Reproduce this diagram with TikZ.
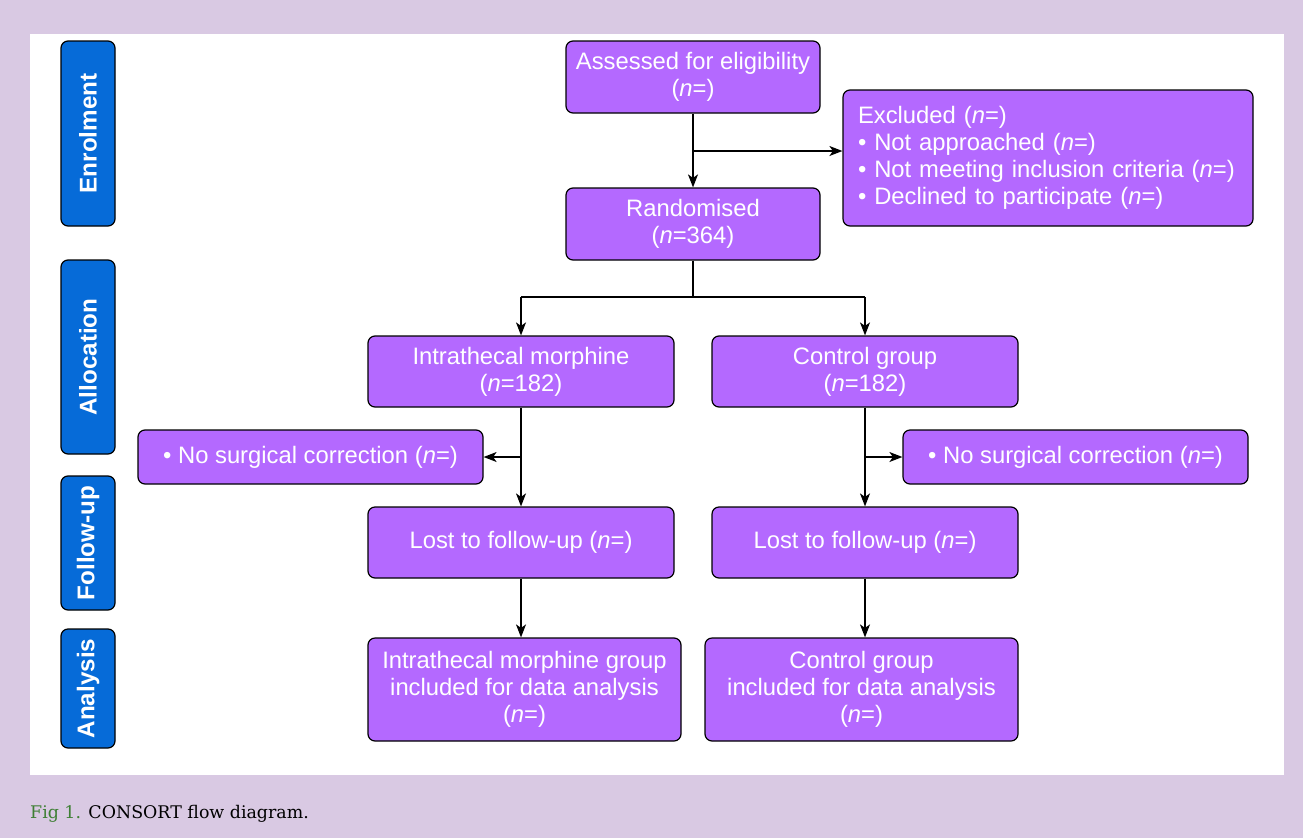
\documentclass[tikz,border=0pt]{standalone}
\usepackage{fontspec}
\setmainfont{Liberation Sans}
\newfontfamily\capfont{DejaVu Serif}
\usetikzlibrary{arrows.meta,calc}
\definecolor{bgpurple}{HTML}{D9C9E3}
\definecolor{boxpurple}{HTML}{B469FF}
\definecolor{sideblue}{HTML}{066BD8}
\definecolor{figgreen}{HTML}{3E7F34}
\begin{document}
\begin{tikzpicture}[x=1pt,y=-1pt,
  box/.style={draw=black,line width=1.2pt,fill=boxpurple,rounded corners=7pt,
    text=white,align=center,inner sep=2pt,font=\fontsize{23.8}{26.8}\selectfont},
  sidebox/.style={draw=black,line width=1.2pt,fill=sideblue,rounded corners=7pt,
    text=white,rotate=90,inner sep=0pt,font=\bfseries\fontsize{24.2}{26}\selectfont},
  conn/.style={line width=1.3pt,black},
  arr/.style={conn,-{Stealth[length=13pt,width=10pt,inset=3.5pt]}}
]
\useasboundingbox (0,0) rectangle (1303,838);
\fill[bgpurple] (0,0) rectangle (1303,838);
\fill[white] (30,34) rectangle (1284,775);

% side labels
\node[sidebox,minimum width=185pt,minimum height=54pt] (senr) at (88,133.5) {Enrolment};
\node[sidebox,minimum width=194pt,minimum height=54pt] (salloc) at (88,357) {Allocation};
\node[sidebox,minimum width=134pt,minimum height=54pt] (sfol) at (88,543) {Follow-up};
\node[sidebox,minimum width=119pt,minimum height=54pt] (sana) at (88,688.5) {Analysis};

% main boxes
\node[box,minimum width=254pt,minimum height=72pt] (assess) at (693,77) {Assessed for eligibility\\(\textit{n}=)};
\node[box,minimum width=410pt,minimum height=136pt,text width=380pt,align=left,inner xsep=15pt] (excl) at (1048,158)
  {Excluded (\textit{n}=)\\\textbullet\ Not approached (\textit{n}=)\\\textbullet\ Not meeting inclusion criteria (\textit{n}=)\\\textbullet\ Declined to participate (\textit{n}=)};
\node[box,minimum width=254pt,minimum height=72pt] (rand) at (693,224) {Randomised\\(\textit{n}=364)};
\node[box,minimum width=306pt,minimum height=71pt] (itm) at (521,371.5) {Intrathecal morphine\\(\textit{n}=182)};
\node[box,minimum width=306pt,minimum height=71pt] (ctl) at (865,371.5) {Control group\\(\textit{n}=182)};
\node[box,minimum width=345pt,minimum height=54pt] (nsl) at (310.5,457) {\textbullet\ No surgical correction (\textit{n}=)};
\node[box,minimum width=345pt,minimum height=54pt] (nsr) at (1075.5,457) {\textbullet\ No surgical correction (\textit{n}=)};
\node[box,minimum width=306pt,minimum height=71pt] (lostl) at (521,542.5) {Lost to follow-up (\textit{n}=)};
\node[box,minimum width=306pt,minimum height=71pt] (lostr) at (865,542.5) {Lost to follow-up (\textit{n}=)};
\node[box,minimum width=313pt,minimum height=103pt] (anl) at (524.5,689.5) {Intrathecal morphine group\\included for data analysis\\(\textit{n}=)};
\node[box,minimum width=313pt,minimum height=103pt] (anr) at (861.5,689.5) {Control group\\included for data analysis\\(\textit{n}=)};

% connectors
\coordinate (b1) at (693,151);
\coordinate (b2) at (693,297);
\coordinate (bl) at (521,457);
\coordinate (br) at (865,457);
\draw[arr] (assess) -- (rand);
\draw[arr] (b1) -- (b1 -| excl.west);
\draw[conn] (rand) -- (b2);
\draw[conn] (b2 -| itm) -- (b2 -| ctl);
\draw[arr] (b2 -| itm) -- (itm);
\draw[arr] (b2 -| ctl) -- (ctl);
\draw[arr] (itm) -- (lostl);
\draw[arr] (ctl) -- (lostr);
\draw[arr] (bl) -- (nsl.east);
\draw[arr] (br) -- (nsr.west);
\draw[arr] (lostl) -- (lostl.south |- anl.north);
\draw[arr] (lostr) -- (lostr.south |- anr.north);

% caption
\node[anchor=west,inner sep=0pt,font=\capfont\fontsize{17.4}{20}\selectfont] (cap) at (30,814)
  {\textcolor{figgreen}{Fig 1.} CONSORT flow diagram.};
\end{tikzpicture}
\end{document}
